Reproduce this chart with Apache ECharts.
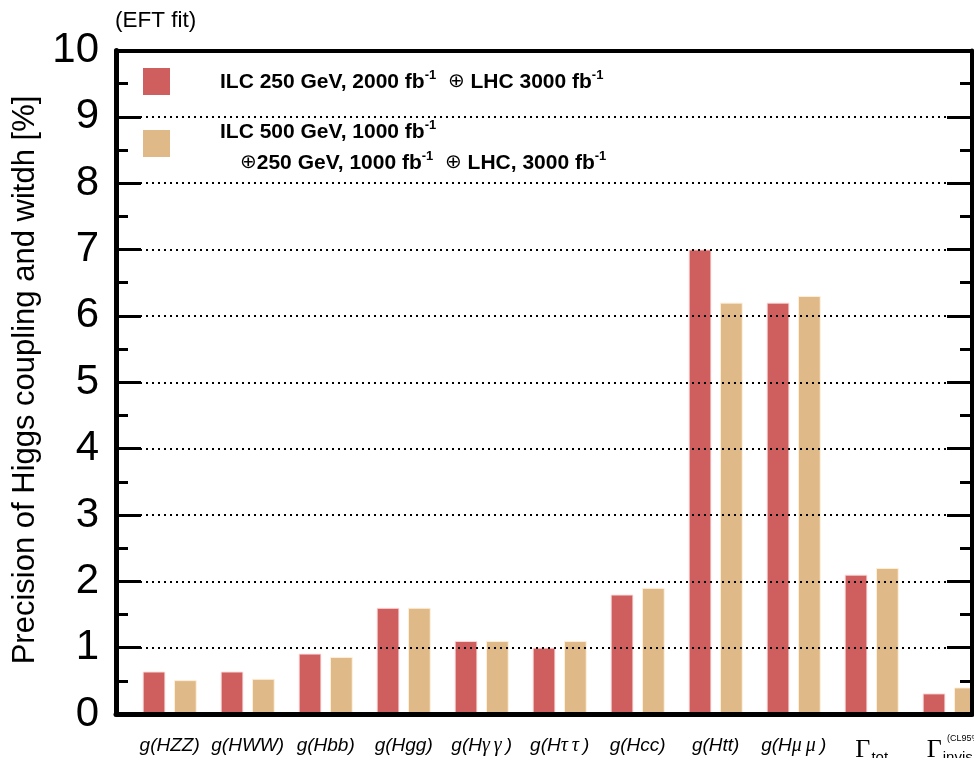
<!DOCTYPE html>
<html>
<head>
<meta charset="utf-8">
<script src="https://cdn.jsdelivr.net/npm/echarts@6/dist/echarts.min.js"></script>
<style>html,body{margin:0;padding:0;background:#fff;}#c{width:974px;height:758px;}</style>
</head>
<body>
<div id="c"></div>
<script>
const categories = ['HZZ','HWW','Hbb','Hgg','Hyy','Htautau','Hcc','Htt','Hmumu','Gtot','Ginvis'];
const ilc250 = [0.64, 0.64, 0.91, 1.6, 1.1, 1.0, 1.8, 7.0, 6.2, 2.1, 0.31];
const ilc500 = [0.51, 0.53, 0.86, 1.6, 1.1, 1.1, 1.9, 6.2, 6.3, 2.2, 0.40];
const yTicks = [0,1,2,3,4,5,6,7,8,9,10];
const seriesNames = ['ILC 250 GeV, 2000 fb-1 + LHC 3000 fb-1', 'ILC 500 GeV, 1000 fb-1 + 250 GeV, 1000 fb-1 + LHC, 3000 fb-1'];

const labelMap = {
  HZZ: '{i|g(HZZ)}',
  HWW: '{i|g(HWW)}',
  Hbb: '{i|g(Hbb)}',
  Hgg: '{i|g(Hgg)}',
  Hyy: '{i|g(H}{gr|γ\u2009γ\u2009}{i|)}',
  Htautau: '{i|g(H}{gr|τ\u2009τ\u2009}{i|)}',
  Hcc: '{i|g(Hcc)}',
  Htt: '{i|g(Htt)}',
  Hmumu: '{i|g(H}{gr|μ\u2009μ\u2009}{i|)}',
  Gtot: '{G|Γ}{sub|tot}',
  Ginvis: '{G|Γ}{sub|invis}'
};

const RED = '#cf5e5e', TAN = '#dfb987';
const chart = echarts.init(document.getElementById('c'), null, {renderer:'canvas'});
const gTop = 50.5, gBottom = 44;
const FONT = 'Liberation Sans, Arial, sans-serif';
function tickAxis(pos, len, interval) {
  return {type:'value', gridIndex:0, min:0, max:10, interval:interval, position:pos, z:3,
    axisLine:{show:false, onZero:false},
    axisTick:{show:true, inside:true, length:len, lineStyle:{color:'#000', width:3}},
    axisLabel:{show:false}, splitLine:{show:false}};
}
chart.setOption({
  animation: false,
  backgroundColor: '#fff',
  grid: [
    {left: 116, right: 2, top: gTop, bottom: gBottom, outerBoundsMode:'none', containLabel:false},
    {left: 130.7, right: -14.7, top: gTop, bottom: gBottom, outerBoundsMode:'none', containLabel:false}
  ],
  xAxis: [
    {type:'value', gridIndex:0, min:0, max:1, position:'bottom', z:10,
     axisLine:{show:true, onZero:false, lineStyle:{color:'#000', width:5}},
     axisTick:{show:false}, axisLabel:{show:false}, splitLine:{show:false}},
    {type:'value', gridIndex:0, min:0, max:1, position:'top', z:10,
     axisLine:{show:true, onZero:false, lineStyle:{color:'#000', width:4}},
     axisTick:{show:false}, axisLabel:{show:false}, splitLine:{show:false}},
    {type:'category', gridIndex:1, data: categories,
     axisLine:{show:false, onZero:false}, axisTick:{show:false},
     axisLabel:{margin: 22, interval:0, formatter: v => labelMap[v],
       rich:{
         i:{fontFamily:FONT, fontStyle:'italic', fontSize:19, color:'#000'},
         gr:{fontFamily:'Liberation Serif, serif', fontStyle:'italic', fontSize:20, color:'#000'},
         G:{fontFamily:'Liberation Serif, Times New Roman, serif', fontSize:26, color:'#000'},
         sub:{fontFamily:FONT, fontSize:15, color:'#000', padding:[14,0,0,1]}
       }}}
  ],
  yAxis: [
    {type:'value', gridIndex:0, min:0, max:10, interval:1, position:'left', z:3,
     axisLine:{show:true, onZero:false, lineStyle:{color:'#000', width:5}},
     axisTick:{show:true, inside:true, length:25, lineStyle:{color:'#000', width:3}},
     axisLabel:{margin:17, fontFamily:FONT, fontSize:42, color:'#000',
       formatter: v => yTicks.indexOf(v) >= 0 ? String(v) : ''},
     splitLine:{show:true, lineStyle:{color:'#000', width:2, type:[2,4]}}},
    {type:'value', gridIndex:0, min:0, max:10, interval:1, position:'right', z:3,
     axisLine:{show:true, onZero:false, lineStyle:{color:'#000', width:4}},
     axisTick:{show:true, inside:true, length:25, lineStyle:{color:'#000', width:3}},
     axisLabel:{show:false}, splitLine:{show:false}},
    tickAxis('left', 12, 0.5),
    tickAxis('right', 12, 0.5),
    {type:'value', gridIndex:1, min:0, max:10, interval:1, show:false, axisLine:{onZero:false}, splitLine:{show:false}}
  ],
  series: [
    {name: seriesNames[0], type:'bar', xAxisIndex:2, yAxisIndex:4, data: ilc250,
     barWidth:22.7, barGap:'38%',
     itemStyle:{color:RED, borderColor:'rgba(255,220,220,0.9)', borderWidth:1}},
    {name: seriesNames[1], type:'bar', xAxisIndex:2, yAxisIndex:4, data: ilc500,
     barWidth:22.7, barGap:'38%',
     itemStyle:{color:TAN, borderColor:'rgba(255,240,215,0.9)', borderWidth:1}}
  ],
  graphic: [
    {type:'text', left:115, top:9, style:{text:'(EFT fit)', font:'22.5px "Liberation Sans", Arial, sans-serif', fill:'#000'}},
    {type:'text', x:25, y:380, rotation:Math.PI/2, style:{text:'Precision of Higgs coupling and witdh [%]', font:'31px "Liberation Sans", Arial, sans-serif', fill:'#000', align:'center', verticalAlign:'middle'}},
    {type:'rect', shape:{x:143, y:68, width:27, height:27}, style:{fill:RED}},
    {type:'rect', shape:{x:143, y:130, width:27, height:27}, style:{fill:TAN}},
    {type:'text', x:220, y:82, style:{
      text:'{t|ILC 250 GeV, 2000 fb}{s|-1}{t|  }{o|⊕}{t| LHC 3000 fb}{s|-1}',
      verticalAlign:'middle',
      rich:{t:{font:'bold 21px "Liberation Sans", Arial, sans-serif', fill:'#000'},
            s:{font:'bold 13px "Liberation Sans", Arial, sans-serif', fill:'#000', padding:[0,0,14,0]},
            o:{font:'20px "DejaVu Sans", sans-serif', fill:'#000'}}}},
    {type:'text', x:220, y:132, style:{
      text:'{t|ILC 500 GeV, 1000 fb}{s|-1}',
      verticalAlign:'middle',
      rich:{t:{font:'bold 21px "Liberation Sans", Arial, sans-serif', fill:'#000'},
            s:{font:'bold 13px "Liberation Sans", Arial, sans-serif', fill:'#000', padding:[0,0,14,0]}}}},
    {type:'text', x:240, y:163, style:{
      text:'{o|⊕}{t|250 GeV, 1000 fb}{s|-1}{t|  }{o|⊕}{t| LHC, 3000 fb}{s|-1}',
      verticalAlign:'middle',
      rich:{t:{font:'bold 21px "Liberation Sans", Arial, sans-serif', fill:'#000'},
            s:{font:'bold 13px "Liberation Sans", Arial, sans-serif', fill:'#000', padding:[0,0,14,0]},
            o:{font:'20px "DejaVu Sans", sans-serif', fill:'#000'}}}},
    {type:'text', x:947, y:734, style:{text:'(CL95%)', font:'9px "Liberation Sans", Arial, sans-serif', fill:'#000'}}
  ]
});
</script>
</body>
</html>
